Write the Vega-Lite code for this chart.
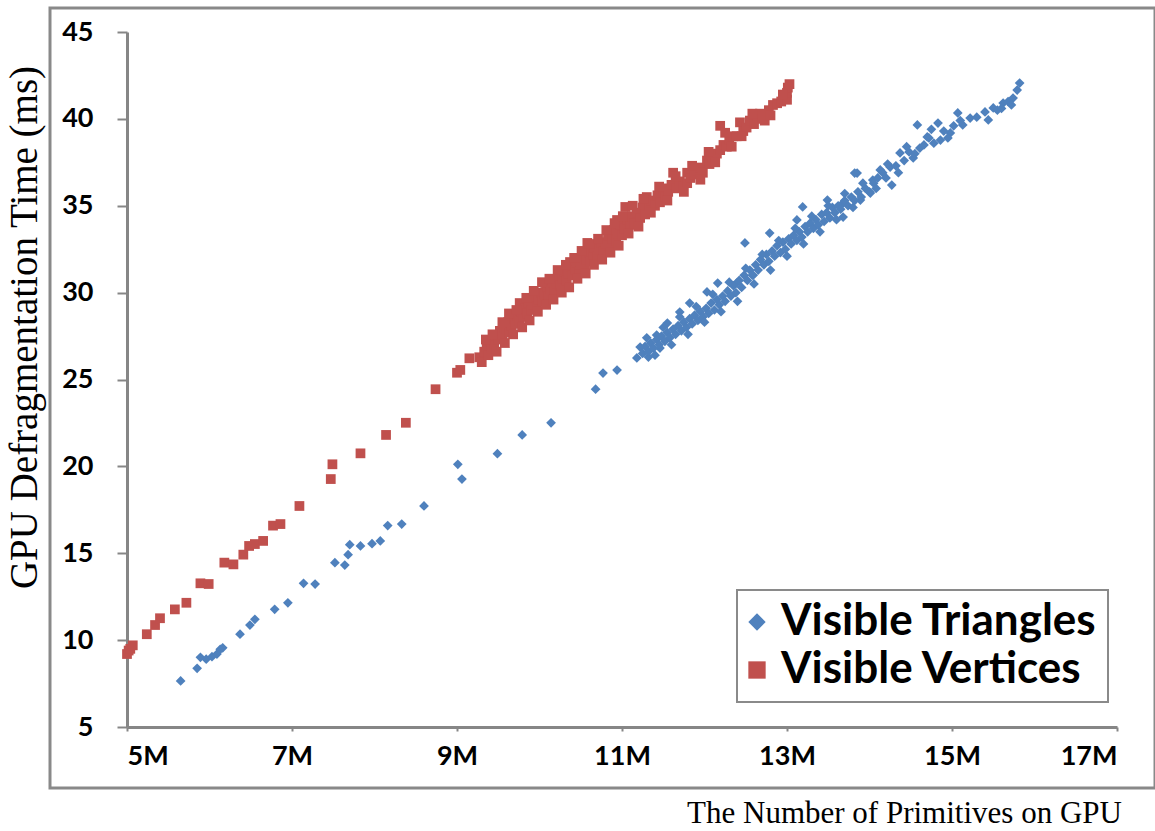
{
"$schema": "https://vega.github.io/schema/vega-lite/v6.json",
"width": 1105, "height": 780,
"autosize": {"type": "none"},
"padding": {"left": 50, "top": 8, "right": 0, "bottom": 43},
"background": "white",
"config": {"view": {"stroke": "#898989", "strokeWidth": 3}, "font": "Lato", "legend": {"strokeWidth": 2}},
"data": {"values": [
{"s":"Visible Vertices","x":5.00,"y":9.2},{"s":"Visible Vertices","x":5.02,"y":9.4},{"s":"Visible Vertices","x":5.04,"y":9.5},{"s":"Visible Vertices","x":5.07,"y":9.7},{"s":"Visible Vertices","x":5.24,"y":10.34},{"s":"Visible Vertices","x":5.34,"y":10.87},{"s":"Visible Vertices","x":5.40,"y":11.26},{"s":"Visible Vertices","x":5.58,"y":11.77},{"s":"Visible Vertices","x":5.72,"y":12.15},{"s":"Visible Vertices","x":5.89,"y":13.27},{"s":"Visible Vertices","x":5.99,"y":13.23},{"s":"Visible Vertices","x":6.18,"y":14.46},{"s":"Visible Vertices","x":6.29,"y":14.36},{"s":"Visible Vertices","x":6.41,"y":14.92},{"s":"Visible Vertices","x":6.48,"y":15.42},{"s":"Visible Vertices","x":6.55,"y":15.53},{"s":"Visible Vertices","x":6.65,"y":15.71},{"s":"Visible Vertices","x":6.77,"y":16.59},{"s":"Visible Vertices","x":6.86,"y":16.68},{"s":"Visible Vertices","x":7.09,"y":17.72},{"s":"Visible Vertices","x":7.47,"y":19.27},{"s":"Visible Vertices","x":7.49,"y":20.12},{"s":"Visible Vertices","x":7.83,"y":20.75},{"s":"Visible Vertices","x":8.14,"y":21.81},{"s":"Visible Vertices","x":8.38,"y":22.51},{"s":"Visible Vertices","x":8.74,"y":24.44},{"s":"Visible Vertices","x":9.00,"y":25.39},{"s":"Visible Vertices","x":9.04,"y":25.55},{"s":"Visible Vertices","x":9.15,"y":26.22},{"s":"Visible Vertices","x":9.27,"y":26.28},{"s":"Visible Vertices","x":9.34,"y":26.51},
{"s":"Visible Vertices","x":9.30,"y":26.0},{"s":"Visible Vertices","x":9.33,"y":26.6},{"s":"Visible Vertices","x":9.36,"y":26.9},{"s":"Visible Vertices","x":9.38,"y":26.4},{"s":"Visible Vertices","x":9.40,"y":27.2},{"s":"Visible Vertices","x":9.42,"y":26.8},{"s":"Visible Vertices","x":9.45,"y":27.0},{"s":"Visible Vertices","x":9.47,"y":27.5},{"s":"Visible Vertices","x":9.50,"y":27.3},{"s":"Visible Vertices","x":9.52,"y":27.8},{"s":"Visible Vertices","x":9.55,"y":27.6},{"s":"Visible Vertices","x":9.57,"y":28.0},{"s":"Visible Vertices","x":9.60,"y":27.9},{"s":"Visible Vertices","x":9.62,"y":28.3},{"s":"Visible Vertices","x":9.64,"y":27.7},{"s":"Visible Vertices","x":9.66,"y":28.1},{"s":"Visible Vertices","x":9.69,"y":28.5},{"s":"Visible Vertices","x":9.71,"y":28.2},{"s":"Visible Vertices","x":9.73,"y":28.7},{"s":"Visible Vertices","x":9.76,"y":28.4},{"s":"Visible Vertices","x":9.76,"y":29.4},{"s":"Visible Vertices","x":9.78,"y":28.9},{"s":"Visible Vertices","x":9.80,"y":28.6},{"s":"Visible Vertices","x":9.83,"y":29.1},{"s":"Visible Vertices","x":9.85,"y":28.8},{"s":"Visible Vertices","x":9.87,"y":29.4},{"s":"Visible Vertices","x":9.90,"y":29.0},{"s":"Visible Vertices","x":9.92,"y":29.3},{"s":"Visible Vertices","x":9.94,"y":29.7},{"s":"Visible Vertices","x":9.97,"y":29.2},{"s":"Visible Vertices","x":9.99,"y":29.6},{"s":"Visible Vertices","x":10.02,"y":30.0},{"s":"Visible Vertices","x":10.04,"y":29.5},{"s":"Visible Vertices","x":10.06,"y":29.9},{"s":"Visible Vertices","x":10.07,"y":30.55},{"s":"Visible Vertices","x":10.09,"y":30.3},{"s":"Visible Vertices","x":10.11,"y":29.8},{"s":"Visible Vertices","x":10.13,"y":30.2},{"s":"Visible Vertices","x":10.16,"y":30.6},{"s":"Visible Vertices","x":10.18,"y":30.1},{"s":"Visible Vertices","x":10.21,"y":30.5},{"s":"Visible Vertices","x":10.23,"y":30.9},{"s":"Visible Vertices","x":10.25,"y":30.4},{"s":"Visible Vertices","x":10.28,"y":30.8},{"s":"Visible Vertices","x":10.30,"y":31.2},{"s":"Visible Vertices","x":10.33,"y":30.7},{"s":"Visible Vertices","x":10.35,"y":31.1},{"s":"Visible Vertices","x":10.37,"y":31.76},{"s":"Visible Vertices","x":10.38,"y":31.5},{"s":"Visible Vertices","x":10.40,"y":31.0},{"s":"Visible Vertices","x":10.43,"y":31.3},{"s":"Visible Vertices","x":10.45,"y":31.7},{"s":"Visible Vertices","x":10.48,"y":31.2},{"s":"Visible Vertices","x":10.50,"y":31.6},{"s":"Visible Vertices","x":10.52,"y":32.0},{"s":"Visible Vertices","x":10.55,"y":31.5},{"s":"Visible Vertices","x":10.57,"y":31.9},{"s":"Visible Vertices","x":10.58,"y":32.86},{"s":"Visible Vertices","x":10.60,"y":32.3},{"s":"Visible Vertices","x":10.62,"y":31.8},{"s":"Visible Vertices","x":10.65,"y":32.2},{"s":"Visible Vertices","x":10.67,"y":32.6},{"s":"Visible Vertices","x":10.70,"y":32.1},{"s":"Visible Vertices","x":10.72,"y":32.5},{"s":"Visible Vertices","x":10.75,"y":32.9},{"s":"Visible Vertices","x":10.77,"y":32.4},{"s":"Visible Vertices","x":10.80,"y":32.8},{"s":"Visible Vertices","x":10.83,"y":33.3},{"s":"Visible Vertices","x":10.85,"y":32.7},{"s":"Visible Vertices","x":10.88,"y":33.1},{"s":"Visible Vertices","x":10.90,"y":33.6},{"s":"Visible Vertices","x":10.93,"y":33.0},{"s":"Visible Vertices","x":10.94,"y":34.18},{"s":"Visible Vertices","x":10.95,"y":33.4},{"s":"Visible Vertices","x":10.98,"y":33.9},{"s":"Visible Vertices","x":11.00,"y":33.3},{"s":"Visible Vertices","x":11.03,"y":33.7},{"s":"Visible Vertices","x":11.04,"y":34.93},{"s":"Visible Vertices","x":11.06,"y":34.2},{"s":"Visible Vertices","x":11.10,"y":33.9},
{"s":"Visible Vertices","x":11.12,"y":34.4},{"s":"Visible Vertices","x":11.15,"y":34.0},{"s":"Visible Vertices","x":11.18,"y":34.6},{"s":"Visible Vertices","x":11.22,"y":34.3},{"s":"Visible Vertices","x":11.25,"y":34.9},{"s":"Visible Vertices","x":11.28,"y":34.5},{"s":"Visible Vertices","x":11.30,"y":35.5},{"s":"Visible Vertices","x":11.33,"y":35.0},{"s":"Visible Vertices","x":11.36,"y":35.3},{"s":"Visible Vertices","x":11.40,"y":35.0},{"s":"Visible Vertices","x":11.43,"y":35.6},{"s":"Visible Vertices","x":11.46,"y":35.2},{"s":"Visible Vertices","x":11.50,"y":36.0},{"s":"Visible Vertices","x":11.53,"y":35.5},{"s":"Visible Vertices","x":11.56,"y":35.8},{"s":"Visible Vertices","x":11.60,"y":36.2},{"s":"Visible Vertices","x":11.62,"y":36.9},{"s":"Visible Vertices","x":11.66,"y":36.0},{"s":"Visible Vertices","x":11.70,"y":36.4},{"s":"Visible Vertices","x":11.74,"y":36.1},{"s":"Visible Vertices","x":11.79,"y":36.3},{"s":"Visible Vertices","x":11.79,"y":36.9},{"s":"Visible Vertices","x":11.83,"y":36.6},{"s":"Visible Vertices","x":11.88,"y":36.8},{"s":"Visible Vertices","x":11.92,"y":37.0},{"s":"Visible Vertices","x":11.95,"y":37.2},{"s":"Visible Vertices","x":11.98,"y":36.9},{"s":"Visible Vertices","x":12.03,"y":37.6},{"s":"Visible Vertices","x":12.06,"y":37.4},{"s":"Visible Vertices","x":12.10,"y":37.8},{"s":"Visible Vertices","x":12.15,"y":38.0},{"s":"Visible Vertices","x":12.19,"y":38.2},{"s":"Visible Vertices","x":12.19,"y":39.6},{"s":"Visible Vertices","x":12.23,"y":38.5},{"s":"Visible Vertices","x":12.27,"y":38.4},{"s":"Visible Vertices","x":12.30,"y":38.8},{"s":"Visible Vertices","x":12.35,"y":39.0},{"s":"Visible Vertices","x":12.39,"y":39.0},{"s":"Visible Vertices","x":12.43,"y":39.8},{"s":"Visible Vertices","x":12.47,"y":39.3},{"s":"Visible Vertices","x":12.51,"y":39.5},{"s":"Visible Vertices","x":12.55,"y":39.9},{"s":"Visible Vertices","x":12.60,"y":39.7},{"s":"Visible Vertices","x":12.64,"y":40.1},{"s":"Visible Vertices","x":12.67,"y":40.3},{"s":"Visible Vertices","x":12.73,"y":39.9},{"s":"Visible Vertices","x":12.78,"y":40.5},{"s":"Visible Vertices","x":12.83,"y":40.8},{"s":"Visible Vertices","x":12.88,"y":40.9},{"s":"Visible Vertices","x":12.93,"y":41.0},{"s":"Visible Vertices","x":13.00,"y":41.1},{"s":"Visible Vertices","x":13.00,"y":41.5},{"s":"Visible Vertices","x":13.01,"y":41.8},{"s":"Visible Vertices","x":13.03,"y":42.0},
{"s":"Visible Vertices","x":9.35,"y":27.3},{"s":"Visible Vertices","x":9.43,"y":27.6},{"s":"Visible Vertices","x":9.48,"y":26.6},{"s":"Visible Vertices","x":9.55,"y":28.3},{"s":"Visible Vertices","x":9.58,"y":27.1},{"s":"Visible Vertices","x":9.63,"y":28.8},{"s":"Visible Vertices","x":9.68,"y":27.6},{"s":"Visible Vertices","x":9.72,"y":29.0},{"s":"Visible Vertices","x":9.79,"y":28.0},{"s":"Visible Vertices","x":9.84,"y":29.7},{"s":"Visible Vertices","x":9.88,"y":28.4},{"s":"Visible Vertices","x":9.93,"y":30.1},{"s":"Visible Vertices","x":9.98,"y":28.9},{"s":"Visible Vertices","x":10.03,"y":30.6},{"s":"Visible Vertices","x":10.08,"y":29.3},{"s":"Visible Vertices","x":10.12,"y":30.8},{"s":"Visible Vertices","x":10.17,"y":29.6},{"s":"Visible Vertices","x":10.22,"y":31.3},{"s":"Visible Vertices","x":10.27,"y":30.0},{"s":"Visible Vertices","x":10.32,"y":31.6},{"s":"Visible Vertices","x":10.36,"y":30.3},{"s":"Visible Vertices","x":10.42,"y":32.0},{"s":"Visible Vertices","x":10.46,"y":30.8},{"s":"Visible Vertices","x":10.51,"y":32.4},{"s":"Visible Vertices","x":10.56,"y":31.1},{"s":"Visible Vertices","x":10.61,"y":32.8},{"s":"Visible Vertices","x":10.66,"y":31.6},{"s":"Visible Vertices","x":10.71,"y":33.1},{"s":"Visible Vertices","x":10.76,"y":31.9},{"s":"Visible Vertices","x":10.81,"y":33.6},{"s":"Visible Vertices","x":10.86,"y":32.3},{"s":"Visible Vertices","x":10.91,"y":34.0},{"s":"Visible Vertices","x":10.96,"y":32.7},{"s":"Visible Vertices","x":11.01,"y":34.4},{"s":"Visible Vertices","x":11.08,"y":33.4},{"s":"Visible Vertices","x":11.13,"y":35.0},{"s":"Visible Vertices","x":11.20,"y":33.8},{"s":"Visible Vertices","x":11.26,"y":35.4},{"s":"Visible Vertices","x":11.35,"y":34.6},{"s":"Visible Vertices","x":11.45,"y":36.1},{"s":"Visible Vertices","x":11.55,"y":35.3},{"s":"Visible Vertices","x":11.65,"y":36.7},{"s":"Visible Vertices","x":11.75,"y":35.8},{"s":"Visible Vertices","x":11.85,"y":37.3},{"s":"Visible Vertices","x":11.95,"y":36.5},{"s":"Visible Vertices","x":12.05,"y":38.1},{"s":"Visible Vertices","x":12.13,"y":37.5},{"s":"Visible Vertices","x":12.25,"y":39.2},{"s":"Visible Vertices","x":12.33,"y":38.4},{"s":"Visible Vertices","x":12.45,"y":39.0},{"s":"Visible Vertices","x":12.58,"y":40.3},{"s":"Visible Vertices","x":12.70,"y":40.0},{"s":"Visible Vertices","x":12.80,"y":40.2},{"s":"Visible Vertices","x":12.95,"y":41.4},
{"s":"Visible Triangles","x":5.65,"y":7.65},{"s":"Visible Triangles","x":5.85,"y":8.38},{"s":"Visible Triangles","x":5.89,"y":9.01},{"s":"Visible Triangles","x":5.96,"y":8.90},{"s":"Visible Triangles","x":6.03,"y":9.05},{"s":"Visible Triangles","x":6.09,"y":9.2},{"s":"Visible Triangles","x":6.13,"y":9.47},{"s":"Visible Triangles","x":6.16,"y":9.56},{"s":"Visible Triangles","x":6.37,"y":10.34},{"s":"Visible Triangles","x":6.49,"y":10.87},{"s":"Visible Triangles","x":6.55,"y":11.2},{"s":"Visible Triangles","x":6.79,"y":11.77},{"s":"Visible Triangles","x":6.95,"y":12.15},{"s":"Visible Triangles","x":7.14,"y":13.27},{"s":"Visible Triangles","x":7.28,"y":13.23},{"s":"Visible Triangles","x":7.52,"y":14.46},{"s":"Visible Triangles","x":7.64,"y":14.32},{"s":"Visible Triangles","x":7.68,"y":14.92},{"s":"Visible Triangles","x":7.70,"y":15.49},{"s":"Visible Triangles","x":7.83,"y":15.42},{"s":"Visible Triangles","x":7.97,"y":15.55},{"s":"Visible Triangles","x":8.07,"y":15.71},{"s":"Visible Triangles","x":8.16,"y":16.59},{"s":"Visible Triangles","x":8.33,"y":16.68},{"s":"Visible Triangles","x":8.60,"y":17.72},{"s":"Visible Triangles","x":9.01,"y":20.12},{"s":"Visible Triangles","x":9.06,"y":19.27},{"s":"Visible Triangles","x":9.49,"y":20.73},{"s":"Visible Triangles","x":9.79,"y":21.81},{"s":"Visible Triangles","x":10.14,"y":22.51},{"s":"Visible Triangles","x":10.68,"y":24.44},{"s":"Visible Triangles","x":10.77,"y":25.37},{"s":"Visible Triangles","x":10.94,"y":25.54},
{"s":"Visible Triangles","x":11.18,"y":26.24},{"s":"Visible Triangles","x":11.32,"y":26.29},{"s":"Visible Triangles","x":11.22,"y":26.87},{"s":"Visible Triangles","x":11.46,"y":26.81},{"s":"Visible Triangles","x":11.42,"y":27.56},{"s":"Visible Triangles","x":11.55,"y":28.25},{"s":"Visible Triangles","x":11.70,"y":28.88},{"s":"Visible Triangles","x":11.82,"y":29.40},{"s":"Visible Triangles","x":12.03,"y":30.04},{"s":"Visible Triangles","x":12.16,"y":30.55},{"s":"Visible Triangles","x":12.39,"y":30.55},{"s":"Visible Triangles","x":12.59,"y":31.0},{"s":"Visible Triangles","x":12.49,"y":32.86},{"s":"Visible Triangles","x":12.79,"y":33.43},{"s":"Visible Triangles","x":13.12,"y":34.18},{"s":"Visible Triangles","x":13.19,"y":34.93},{"s":"Visible Triangles","x":13.49,"y":35.33},{"s":"Visible Triangles","x":13.85,"y":36.88},{"s":"Visible Triangles","x":14.04,"y":36.48},{"s":"Visible Triangles","x":13.68,"y":34.35},{"s":"Visible Triangles","x":13.68,"y":35.16},{"s":"Visible Triangles","x":13.89,"y":35.33},{"s":"Visible Triangles","x":14.01,"y":35.73},{"s":"Visible Triangles","x":13.82,"y":36.88},{"s":"Visible Triangles","x":14.13,"y":37.06},{"s":"Visible Triangles","x":14.25,"y":37.23},{"s":"Visible Triangles","x":14.27,"y":36.19},{"s":"Visible Triangles","x":14.37,"y":38.04},{"s":"Visible Triangles","x":14.53,"y":37.75},{"s":"Visible Triangles","x":14.61,"y":38.32},{"s":"Visible Triangles","x":14.58,"y":39.65},{"s":"Visible Triangles","x":14.70,"y":38.96},{"s":"Visible Triangles","x":14.83,"y":39.76},{"s":"Visible Triangles","x":14.86,"y":38.78},{"s":"Visible Triangles","x":14.98,"y":39.19},{"s":"Visible Triangles","x":15.07,"y":40.34},{"s":"Visible Triangles","x":15.13,"y":39.65},{"s":"Visible Triangles","x":15.22,"y":40.05},{"s":"Visible Triangles","x":15.44,"y":39.94},{"s":"Visible Triangles","x":15.50,"y":40.63},{"s":"Visible Triangles","x":15.62,"y":40.91},{"s":"Visible Triangles","x":15.74,"y":41.2},{"s":"Visible Triangles","x":15.79,"y":41.66},{"s":"Visible Triangles","x":15.82,"y":42.06},
{"s":"Visible Triangles","x":11.25,"y":26.5},{"s":"Visible Triangles","x":11.28,"y":26.9},{"s":"Visible Triangles","x":11.32,"y":26.6},{"s":"Visible Triangles","x":11.35,"y":27.1},{"s":"Visible Triangles","x":11.38,"y":26.8},{"s":"Visible Triangles","x":11.42,"y":27.3},{"s":"Visible Triangles","x":11.45,"y":27.0},{"s":"Visible Triangles","x":11.48,"y":27.5},{"s":"Visible Triangles","x":11.52,"y":27.2},{"s":"Visible Triangles","x":11.55,"y":27.7},{"s":"Visible Triangles","x":11.58,"y":27.4},{"s":"Visible Triangles","x":11.62,"y":27.9},{"s":"Visible Triangles","x":11.65,"y":27.6},{"s":"Visible Triangles","x":11.68,"y":28.1},{"s":"Visible Triangles","x":11.72,"y":27.8},{"s":"Visible Triangles","x":11.75,"y":28.3},{"s":"Visible Triangles","x":11.78,"y":28.0},{"s":"Visible Triangles","x":11.82,"y":28.5},{"s":"Visible Triangles","x":11.85,"y":28.2},{"s":"Visible Triangles","x":11.88,"y":28.7},{"s":"Visible Triangles","x":11.92,"y":28.4},{"s":"Visible Triangles","x":11.95,"y":28.9},{"s":"Visible Triangles","x":11.98,"y":28.6},{"s":"Visible Triangles","x":12.02,"y":29.1},{"s":"Visible Triangles","x":12.05,"y":28.8},{"s":"Visible Triangles","x":12.08,"y":29.4},{"s":"Visible Triangles","x":12.12,"y":29.0},{"s":"Visible Triangles","x":12.15,"y":29.6},{"s":"Visible Triangles","x":12.18,"y":29.3},{"s":"Visible Triangles","x":12.22,"y":29.8},{"s":"Visible Triangles","x":12.25,"y":29.5},{"s":"Visible Triangles","x":12.28,"y":30.1},{"s":"Visible Triangles","x":12.32,"y":29.8},{"s":"Visible Triangles","x":12.35,"y":30.4},{"s":"Visible Triangles","x":12.38,"y":30.0},{"s":"Visible Triangles","x":12.42,"y":30.7},{"s":"Visible Triangles","x":12.45,"y":30.3},{"s":"Visible Triangles","x":12.48,"y":31.0},{"s":"Visible Triangles","x":12.52,"y":30.7},{"s":"Visible Triangles","x":12.55,"y":31.3},{"s":"Visible Triangles","x":12.58,"y":31.0},{"s":"Visible Triangles","x":12.62,"y":31.6},{"s":"Visible Triangles","x":12.65,"y":31.3},{"s":"Visible Triangles","x":12.68,"y":31.9},{"s":"Visible Triangles","x":12.72,"y":31.6},{"s":"Visible Triangles","x":12.75,"y":32.2},{"s":"Visible Triangles","x":12.78,"y":31.8},{"s":"Visible Triangles","x":12.82,"y":32.4},{"s":"Visible Triangles","x":12.85,"y":32.1},{"s":"Visible Triangles","x":12.88,"y":32.7},{"s":"Visible Triangles","x":12.92,"y":32.3},{"s":"Visible Triangles","x":12.95,"y":32.9},{"s":"Visible Triangles","x":12.98,"y":32.5},{"s":"Visible Triangles","x":13.02,"y":33.1},{"s":"Visible Triangles","x":13.05,"y":32.8},{"s":"Visible Triangles","x":13.08,"y":33.3},{"s":"Visible Triangles","x":13.12,"y":33.0},{"s":"Visible Triangles","x":13.15,"y":33.5},{"s":"Visible Triangles","x":13.18,"y":33.2},{"s":"Visible Triangles","x":13.22,"y":33.8},{"s":"Visible Triangles","x":13.25,"y":33.5},{"s":"Visible Triangles","x":13.28,"y":34.0},{"s":"Visible Triangles","x":13.32,"y":33.7},{"s":"Visible Triangles","x":13.35,"y":34.2},{"s":"Visible Triangles","x":13.38,"y":33.9},{"s":"Visible Triangles","x":13.42,"y":34.5},{"s":"Visible Triangles","x":13.45,"y":34.1},{"s":"Visible Triangles","x":13.48,"y":34.6},{"s":"Visible Triangles","x":13.52,"y":34.3},{"s":"Visible Triangles","x":13.55,"y":34.9},{"s":"Visible Triangles","x":13.58,"y":34.6},{"s":"Visible Triangles","x":13.62,"y":35.0},{"s":"Visible Triangles","x":13.65,"y":34.8},{"s":"Visible Triangles","x":13.70,"y":35.3},{"s":"Visible Triangles","x":13.74,"y":35.0},{"s":"Visible Triangles","x":13.78,"y":35.5},{"s":"Visible Triangles","x":13.82,"y":35.3},{"s":"Visible Triangles","x":13.86,"y":35.8},{"s":"Visible Triangles","x":13.90,"y":35.5},{"s":"Visible Triangles","x":13.95,"y":36.0},{"s":"Visible Triangles","x":14.00,"y":35.8},{"s":"Visible Triangles","x":14.05,"y":36.3},{"s":"Visible Triangles","x":14.10,"y":36.6},{"s":"Visible Triangles","x":14.16,"y":36.9},{"s":"Visible Triangles","x":14.20,"y":36.6},{"s":"Visible Triangles","x":14.32,"y":37.3},{"s":"Visible Triangles","x":14.42,"y":37.6},{"s":"Visible Triangles","x":14.48,"y":38.1},{"s":"Visible Triangles","x":14.66,"y":38.5},{"s":"Visible Triangles","x":14.72,"y":38.9},{"s":"Visible Triangles","x":14.78,"y":38.6},{"s":"Visible Triangles","x":14.90,"y":39.3},{"s":"Visible Triangles","x":15.02,"y":39.6},{"s":"Visible Triangles","x":15.55,"y":40.5},{"s":"Visible Triangles","x":15.68,"y":41.0},{"s":"Visible Triangles","x":15.72,"y":40.8},
{"s":"Visible Triangles","x":11.30,"y":27.4},{"s":"Visible Triangles","x":11.40,"y":26.4},{"s":"Visible Triangles","x":11.50,"y":28.0},{"s":"Visible Triangles","x":11.60,"y":27.0},{"s":"Visible Triangles","x":11.70,"y":28.6},{"s":"Visible Triangles","x":11.80,"y":27.6},{"s":"Visible Triangles","x":11.90,"y":29.2},{"s":"Visible Triangles","x":12.00,"y":28.3},{"s":"Visible Triangles","x":12.10,"y":29.9},{"s":"Visible Triangles","x":12.20,"y":28.9},{"s":"Visible Triangles","x":12.30,"y":30.6},{"s":"Visible Triangles","x":12.40,"y":29.5},{"s":"Visible Triangles","x":12.50,"y":31.4},{"s":"Visible Triangles","x":12.60,"y":30.5},{"s":"Visible Triangles","x":12.70,"y":32.2},{"s":"Visible Triangles","x":12.80,"y":31.3},{"s":"Visible Triangles","x":12.90,"y":33.0},{"s":"Visible Triangles","x":13.00,"y":32.1},{"s":"Visible Triangles","x":13.10,"y":33.7},{"s":"Visible Triangles","x":13.20,"y":32.8},{"s":"Visible Triangles","x":13.30,"y":34.4},{"s":"Visible Triangles","x":13.40,"y":33.5},{"s":"Visible Triangles","x":13.50,"y":35.0},{"s":"Visible Triangles","x":13.60,"y":34.2},{"s":"Visible Triangles","x":13.70,"y":35.7},{"s":"Visible Triangles","x":13.80,"y":34.9},{"s":"Visible Triangles","x":13.92,"y":36.3},{"s":"Visible Triangles","x":14.08,"y":36.0},{"s":"Visible Triangles","x":14.22,"y":37.4},{"s":"Visible Triangles","x":14.35,"y":36.9},{"s":"Visible Triangles","x":14.45,"y":38.4},{"s":"Visible Triangles","x":14.55,"y":38.0},{"s":"Visible Triangles","x":14.75,"y":39.4},{"s":"Visible Triangles","x":14.95,"y":38.9},{"s":"Visible Triangles","x":15.10,"y":39.9},{"s":"Visible Triangles","x":15.30,"y":40.1},{"s":"Visible Triangles","x":15.40,"y":40.4},{"s":"Visible Triangles","x":15.60,"y":40.6}
]},
"mark": {"type": "point", "filled": true, "opacity": 1, "size": 95},
"encoding": {
"x": {"field": "x", "type": "quantitative",
 "scale": {"domain": [5, 17], "range": [77, 1067], "nice": false, "zero": false},
 "axis": {"orient": "bottom", "offset": -61, "values": [5,7,9,11,13,15,17], "labelExpr": "datum.value + 'M'",
  "labelFont": "Lato", "labelFontWeight": "bold", "labelFontSize": 27, "labelColor": "#000", "labelPadding": 12,
  "tickSize": 4, "tickColor": "#868686", "tickWidth": 2, "domainColor": "#868686", "domainWidth": 3, "grid": false,
  "title": "The Number of Primitives on GPU", "titleFont": "Liberation Serif", "titleFontWeight": "normal", "titleFontSize": 31,
  "titleColor": "#000", "titleX": 854, "titleY": 86, "titleAlign": "center", "titleBaseline": "middle"}},
"y": {"field": "y", "type": "quantitative",
 "scale": {"domain": [5, 45], "range": [719, 24], "nice": false, "zero": false},
 "axis": {"orient": "left", "offset": -77, "values": [5,10,15,20,25,30,35,40,45],
  "labelFont": "Lato", "labelFontWeight": "bold", "labelFontSize": 27, "labelColor": "#000", "labelPadding": 24,
  "tickSize": 10, "tickColor": "#868686", "tickWidth": 2, "domainColor": "#868686", "domainWidth": 3, "grid": false,
  "title": "GPU Defragmentation Time (ms)", "titleFont": "Liberation Serif", "titleFontWeight": "normal", "titleFontSize": 39,
  "titleColor": "#000", "titleX": -103, "titleY": 319, "titleAlign": "center", "titleBaseline": "middle", "titleAngle": -90}},
"color": {"field": "s", "type": "nominal",
 "scale": {"domain": ["Visible Triangles", "Visible Vertices"], "range": ["#4F81BD", "#C0504D"]},
 "legend": {"title": null, "orient": "none", "legendX": 687, "legendY": 582, "strokeColor": "#8a8a8a",
  "fillColor": "white", "padding": 10, "symbolSize": 300, "labelFontSize": 44, "labelFont": "Lato", "labelFontWeight": "bold",
  "labelColor": "#000", "rowPadding": 4, "labelOffset": 2, "symbolOffset": -12, "labelLimit": 0, "symbolOpacity": 1}},
"shape": {"field": "s", "type": "nominal",
 "scale": {"domain": ["Visible Triangles", "Visible Vertices"], "range": ["diamond", "square"]},
 "legend": {"title": null, "orient": "none", "legendX": 687, "legendY": 582}}
}
}
